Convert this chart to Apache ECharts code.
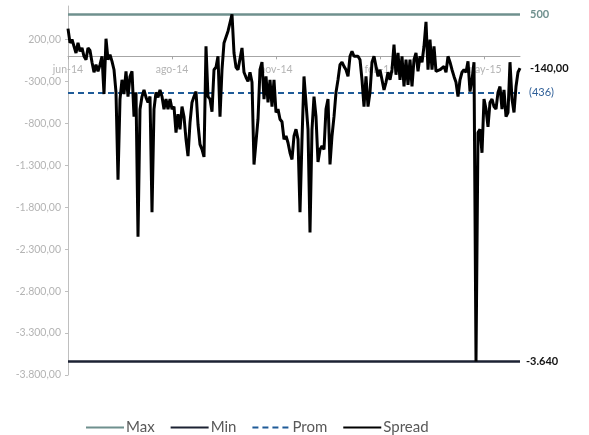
<!DOCTYPE html>
<html><head><meta charset="utf-8">
<script src="https://cdn.jsdelivr.net/npm/echarts@6/dist/echarts.min.js"></script>
<style>html,body{margin:0;padding:0;background:#fff}#c{width:589px;height:435px}</style>
</head><body><div id="c"></div>
<script>
const spread = [
330,160,200,180,40,160,60,100,0,-40,
100,70,-70,-190,-100,-180,-100,0,-450,210,
-40,20,-60,-160,-430,-1470,-510,-280,-450,-180,
-480,-240,-180,-720,-430,-2150,-630,-480,-400,-490,
-550,-480,-1860,-630,-430,-490,-400,-480,-630,-510,
-630,-510,-630,-600,-910,-690,-870,-600,-720,-990,
-1190,-790,-550,-480,-420,-810,-1050,-1110,-1200,120,
-480,-510,-660,-160,-130,0,-720,-160,160,180,
300,400,500,40,-130,-160,-160,100,-190,-250,
-300,-190,-310,-1290,-1290,-750,-160,-70,-510,-240,
-550,-280,-600,-280,-670,-630,-750,-780,-990,-950,
-1030,-1150,-1230,-950,-870,-990,-1860,-990,-240,-220,
-870,-2100,-870,-480,-720,-1260,-1110,-1070,-1110,-630,
-510,-1290,-950,-720,-430,-280,-100,-70,-120,-160,
-240,0,60,0,20,0,-40,-280,-600,-240,
-600,-430,-70,0,0,-240,-160,-280,-400,-310,
-190,-280,-160,140,-220,40,-280,0,-360,-40,
-340,-40,-360,-40,40,-180,0,-70,120,410,
-160,200,-160,120,-180,-190,-160,-160,-120,-190,
0,-70,-160,-240,-310,-480,-280,-190,-160,-190,
-60,-420,-280,-70,-3640,-910,-870,-1150,-510,-630,
-840,-550,-510,-600,-630,-430,-360,-630,-400,-720,
-670,-70,-510,-670,-360,-190,-140
];
const tickIndex = [0, 52, 104, 156, 208];
const tickLabels = ['jun-14', 'ago-14', 'nov-14', 'feb-15', 'may-15'];
const maxVal = 500;
const minVal = -3640;
const promVal = -436;
const yMin = -3800, yMax = 600, yStep = 500;

function fmt(v, dec) {
  const neg = v < 0;
  const s = Math.abs(v).toFixed(dec);
  let parts = s.split('.');
  let i = parts[0].replace(/\B(?=(\d{3})+(?!\d))/g, '.');
  return (neg ? '-' : '') + i + (parts[1] ? ',' + parts[1] : '');
}

const cats = spread.map((_, i) => String(i));
const FONT = 'Lato, "Open Sans", sans-serif';
const C_MAX = '#6f908e', C_MIN = '#1c2233', C_PROM = '#1f5b98', C_SPREAD = '#000000';

const GRID_TOP = 6, GRID_BOTTOM = 60, H = 435;
const plotH = H - GRID_TOP - GRID_BOTTOM;
// move the category axis up so that it sits at value 0
const zeroOffset = -(0 - yMin) / (yMax - yMin) * plotH;

const chart = echarts.init(document.getElementById('c'), null, {renderer: 'canvas'});
chart.setOption({
  animation: false,
  textStyle: {fontFamily: FONT},
  grid: {left: 68, right: 69, top: GRID_TOP, bottom: GRID_BOTTOM, containLabel: false},
  legend: {
    data: ['Max', 'Min', 'Prom', 'Spread'],
    left: 80, top: 415,
    itemWidth: 38, itemHeight: 12, itemGap: 15,
    itemStyle: {opacity: 0},
    textStyle: {fontSize: 15, color: '#595959', fontFamily: FONT, padding: [0, 0, 0, -3]}
  },
  xAxis: {
    type: 'category',
    data: cats,
    boundaryGap: false,
    offset: zeroOffset,
    axisLine: {onZero: false, lineStyle: {color: '#a6a6a6', width: 1}},
    axisTick: {show: true, length: 3, interval: (i) => tickIndex.includes(i), lineStyle: {color: '#a6a6a6'}},
    axisLabel: {
      interval: (i) => tickIndex.includes(i),
      formatter: (v, i) => { const k = tickIndex.indexOf(Number(v)); return k >= 0 ? tickLabels[k] : ''; },
      color: '#b4b4b4', fontSize: 10.5, margin: 8, fontFamily: FONT
    },
    splitLine: {show: false}
  },
  yAxis: {
    type: 'value',
    min: yMin, max: yMax, interval: yStep,
    axisLine: {show: true, lineStyle: {color: '#bfbfbf', width: 1}},
    axisTick: {show: true, length: 3, lineStyle: {color: '#bfbfbf'}},
    axisLabel: {formatter: (v) => fmt(v, 2), color: '#b4b4b4', fontSize: 10.5, margin: 7, showMaxLabel: false, fontFamily: FONT},
    splitLine: {show: false}
  },
  series: [
    {
      name: 'Max', type: 'line', data: [], symbol: 'none',
      itemStyle: {color: C_MAX}, lineStyle: {color: C_MAX, width: 2.5},
      markLine: {
        silent: true, symbol: 'none',
        lineStyle: {color: C_MAX, width: 2.5, type: 'solid'},
        label: {position: 'end', distance: 10, formatter: () => fmt(maxVal, 0), color: C_MAX, fontWeight: 'bold', fontSize: 11, fontFamily: FONT},
        data: [{yAxis: maxVal}]
      }
    },
    {
      name: 'Min', type: 'line', data: [], symbol: 'none',
      itemStyle: {color: C_MIN}, lineStyle: {color: C_MIN, width: 2.5},
      markLine: {
        silent: true, symbol: 'none',
        lineStyle: {color: C_MIN, width: 2.5, type: 'solid'},
        label: {position: 'end', distance: 6, formatter: () => fmt(minVal, 0), color: '#111111', fontWeight: 'bold', fontSize: 11, fontFamily: FONT},
        data: [{yAxis: minVal}]
      }
    },
    {
      name: 'Prom', type: 'line', data: [], symbol: 'none',
      itemStyle: {color: C_PROM}, lineStyle: {color: C_PROM, width: 2, type: [6, 4]},
      markLine: {
        silent: true, symbol: 'none',
        lineStyle: {color: C_PROM, width: 2, type: [6, 4]},
        label: {position: 'end', distance: 9, formatter: () => '(' + fmt(Math.abs(promVal), 0) + ')', color: '#2f5f98', fontSize: 11, fontFamily: FONT},
        data: [{yAxis: promVal}]
      }
    },
    {
      name: 'Spread', type: 'line', data: spread, symbol: 'none', showSymbol: false,
      itemStyle: {color: C_SPREAD}, lineStyle: {color: C_SPREAD, width: 3},
      z: 5,
      endLabel: {show: true, distance: 10, formatter: (p) => fmt(p.value, 2), color: '#111111', fontWeight: 'bold', fontSize: 11, fontFamily: FONT}
    }
  ]
});
</script>
</body></html>
